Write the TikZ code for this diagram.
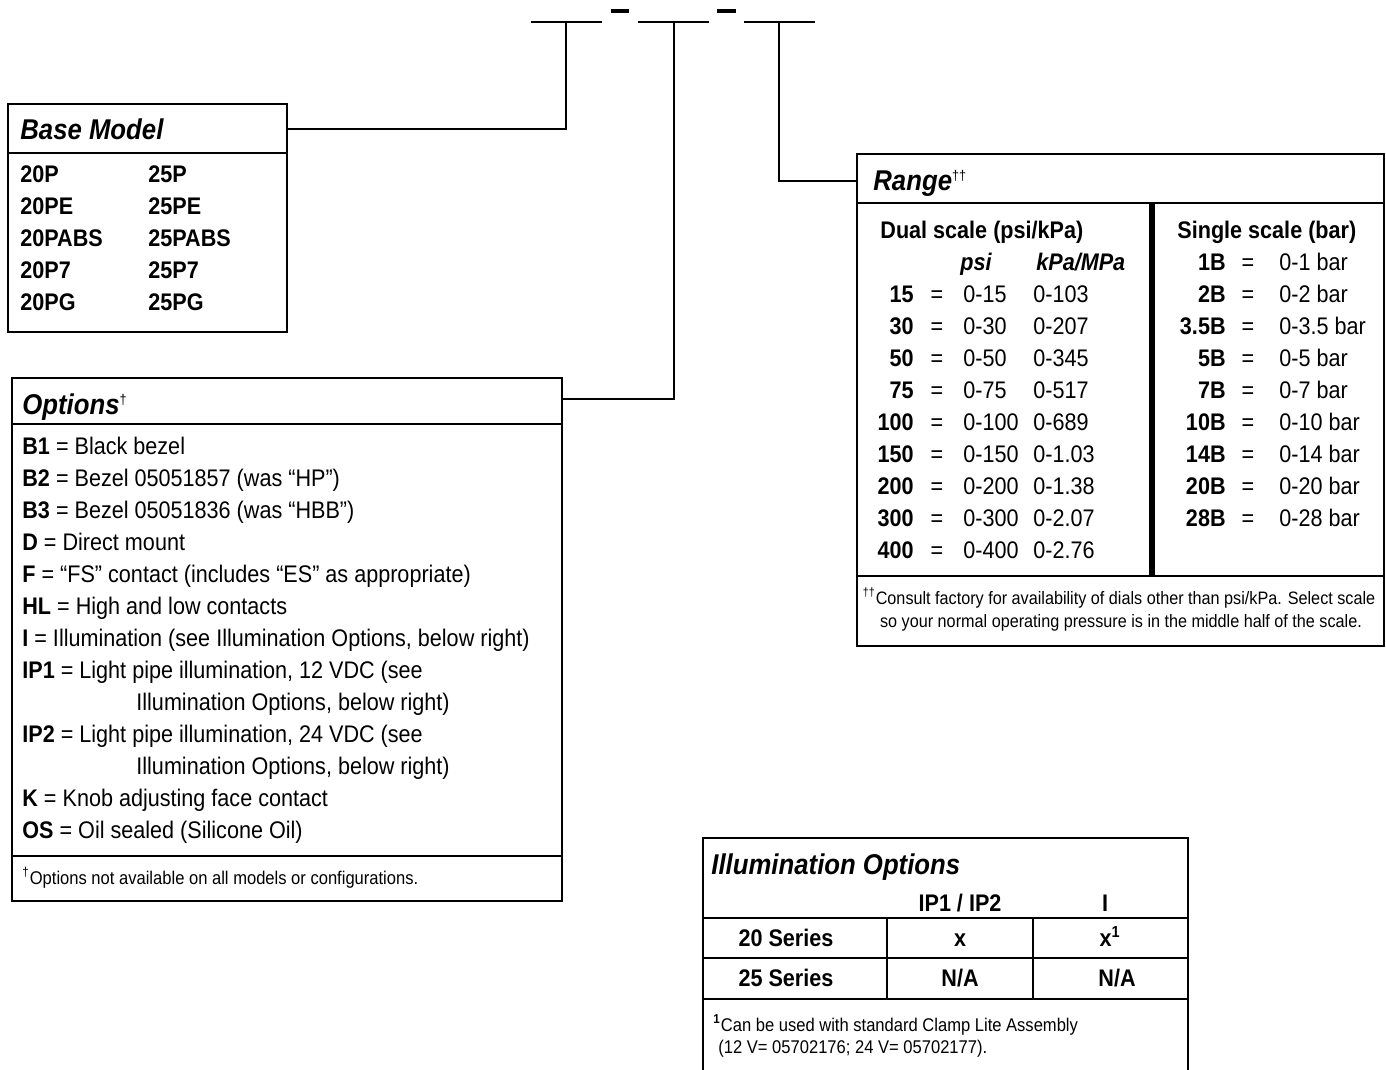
\documentclass[tikz,border=0pt]{standalone}
\usepackage{fontspec}
\setmainfont{Liberation Sans}[FakeStretch=0.9]
\begin{document}
\begin{tikzpicture}[x=0.5pt,y=-0.5pt,
  frame/.style={draw, line width=1pt, inner sep=0pt},
  ln/.style={line width=1pt},
  thin/.style={line width=0.55pt},
  body/.style={inner sep=0pt, font=\fontsize{12}{14}\selectfont},
  bodyb/.style={inner sep=0pt, font=\fontsize{12}{14}\selectfont\bfseries},
  L/.style={body, anchor=base west},
  Lb/.style={bodyb, anchor=base west},
  Rb/.style={bodyb, anchor=base east},
  Cb/.style={bodyb, anchor=base},
  C/.style={body, anchor=base},
  ttl/.style={inner sep=0pt, anchor=base west, font=\fontsize{14.3}{16}\selectfont\bfseries\itshape},
  fn/.style={inner sep=0pt, font=\fontsize{9.2}{11}\selectfont},
  fns/.style={inner sep=0pt, font=\fontsize{9}{11}\selectfont},
  dag/.style={font=\fontsize{7}{8}\selectfont},
]
\useasboundingbox (0,0) rectangle (1386,1070);

% ---- code placeholders ----
\coordinate (s1) at (566,22);
\coordinate (s2) at (674,22);
\coordinate (s3) at (779,22);
\draw[line width=0.6pt] (531,22) -- (602,22);
\draw[line width=0.6pt] (638,22) -- (709,22);
\draw[line width=0.6pt] (744,22) -- (815,22);
\draw[line width=1.6pt] (611,11) -- (629,11);
\draw[line width=1.6pt] (717,11) -- (736,11);

% ---- Base Model ----
\node[frame, minimum width=139.5pt, minimum height=114pt] (base) at (147.5,218) {};
\draw[ln] (base.west |- 0,153) -- (base.east |- 0,153);
\node[ttl] (bmt) at (20,140) {Base Model};
\foreach \a/\b [count=\k from 0] in {20P/25P, 20PE/25PE, 20PABS/25PABS, 20P7/25P7, 20PG/25PG}{
  \node[Lb] (bl\k) at (20,{182+32*\k}) {\a};
  \node[Lb] (br\k) at (148,{182+32*\k}) {\b};
}
\draw[ln] (s1) |- ([yshift=-13pt]base.north east);

% ---- Options ----
\node[frame, minimum width=275pt, minimum height=261.5pt] (opt) at (287,639.5) {};
\draw[ln] (opt.west |- 0,424) -- (opt.east |- 0,424);
\draw[ln] (opt.west |- 0,856) -- (opt.east |- 0,856);
\node[ttl] (optt) at (22,414) {Options\raisebox{5pt}{\normalfont\mdseries\upshape\fontsize{7}{8}\selectfont †}};
\node[L] (o0) at (22,454) {\textbf{B1} = Black bezel};
\node[L] (o1) at (22,486) {\textbf{B2} = Bezel 05051857 (was “HP”)};
\node[L] (o2) at (22,518) {\textbf{B3} = Bezel 05051836 (was “HBB”)};
\node[L] (o3) at (22,550) {\textbf{D} = Direct mount};
\node[L] (o4) at (22,582) {\textbf{F} = “FS” contact (includes “ES” as appropriate)};
\node[L] (o5) at (22,614) {\textbf{HL} = High and low contacts};
\node[L] (o6) at (22,646) {\textbf{I} = Illumination (see Illumination Options, below right)};
\node[L] (o7) at (22,678) {\textbf{IP1} = Light pipe illumination, 12 VDC (see};
\node[L] (o8) at (136,710) {Illumination Options, below right)};
\node[L] (o9) at (22,742) {\textbf{IP2} = Light pipe illumination, 24 VDC (see};
\node[L] (o10) at (136,774) {Illumination Options, below right)};
\node[L] (o11) at (22,806) {\textbf{K} = Knob adjusting face contact};
\node[L] (o12) at (22,838) {\textbf{OS} = Oil sealed (Silicone Oil)};
\node[fn, anchor=base west] (ofn) at (22,884) {\textsuperscript{†}Options not available on all models or configurations.};
\draw[ln] (s2) |- ([yshift=-11pt]opt.north east);

% ---- Range ----
\node[frame, minimum width=263.5pt, minimum height=246pt] (rng) at (1120.5,400) {};
\draw[ln] (rng.west |- 0,203) -- (rng.east |- 0,203);
\draw[ln] (rng.west |- 0,576) -- (rng.east |- 0,576);
\draw[line width=2.6pt] (1152,203) -- (1152,576);
\node[ttl] (rngt) at (873,190) {Range\raisebox{5pt}{\normalfont\mdseries\upshape\fontsize{7}{8}\selectfont ††}};
\node[Lb] (dual) at (880,238) {Dual scale (psi/kPa)};
\node[Lb, font=\fontsize{12}{14}\selectfont\bfseries\itshape] (hpsi) at (960,270) {psi};
\node[Lb, font=\fontsize{12}{14}\selectfont\bfseries\itshape] (hkpa) at (1036,270) {kPa/MPa};
\foreach \n/\p/\q [count=\k from 0] in {15/0-15/0-103, 30/0-30/0-207, 50/0-50/0-345, 75/0-75/0-517, 100/0-100/0-689, 150/0-150/0-1.03, 200/0-200/0-1.38, 300/0-300/0-2.07, 400/0-400/0-2.76}{
  \node[Rb] (dn\k) at (914,{302+32*\k}) {\n};
  \node[C] (de\k) at (937,{302+32*\k}) {=};
  \node[L] (dp\k) at (963,{302+32*\k}) {\p};
  \node[L] (dq\k) at (1033,{302+32*\k}) {\q};
}
\node[Lb] (single) at (1177,238) {Single scale (bar)};
\foreach \n/\p [count=\k from 0] in {1B/0-1 bar, 2B/0-2 bar, 3.5B/0-3.5 bar, 5B/0-5 bar, 7B/0-7 bar, 10B/0-10 bar, 14B/0-14 bar, 20B/0-20 bar, 28B/0-28 bar}{
  \node[Rb] (sn\k) at (1226,{270+32*\k}) {\n};
  \node[C] (se\k) at (1248,{270+32*\k}) {=};
  \node[L] (sp\k) at (1279,{270+32*\k}) {\p};
}
\node[fns, anchor=base] (rfn1) at (1119,604) {\textsuperscript{††}Consult factory for availability of dials other than psi/kPa. Select scale};
\node[fns, anchor=base] (rfn2) at (1121,627) {so your normal operating pressure is in the middle half of the scale.};
\draw[ln] (s3) |- ([yshift=-14pt]rng.north west);

% ---- Illumination Options ----
\draw[ln] (703,1072) -- (703,838) -- (1188,838) -- (1188,1072);
\draw[thin] (703,918) -- (1188,918);
\draw[thin] (703,958) -- (1188,958);
\draw[ln] (703,999) -- (1188,999);
\draw[thin] (887,918) -- (887,999);
\draw[thin] (1033,918) -- (1033,999);
\node[ttl] (illt) at (711,874) {Illumination Options};
\node[Cb] (h1) at (960,911) {IP1 / IP2};
\node[Cb] (h2) at (1105,911) {I};
\node[Cb] (r1a) at (786,946) {20 Series};
\node[Cb] (r1b) at (960,946) {x};
\node[Cb] (r1c) at (1110,946) {x\textsuperscript{1}};
\node[Cb] (r2a) at (786,986) {25 Series};
\node[Cb] (r2b) at (960,986) {N/A};
\node[Cb] (r2c) at (1117,986) {N/A};
\node[fn, anchor=base west] (ifn1) at (713,1031) {\textsuperscript{\textbf{1}}Can be used with standard Clamp Lite Assembly};
\node[fn, anchor=base west] (ifn2) at (718,1053) {(12 V= 05702176; 24 V= 05702177).};
\end{tikzpicture}
\end{document}
